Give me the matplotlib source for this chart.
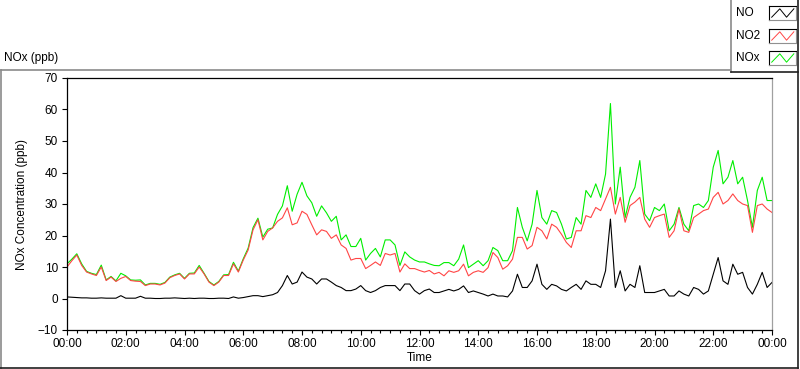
import numpy as np
import matplotlib
matplotlib.use("Agg")
from matplotlib import pyplot as plt
from matplotlib.lines import Line2D

plt.rcParams['font.family'] = ['Liberation Sans', 'DejaVu Sans']

# readings every 10 minutes, 00:00 .. 24:00
no2 = [10, 12, 13.8, 10.5, 8.4, 7.8, 7.3, 10, 5.7, 6.8, 5.4, 6.4, 7, 5.7, 5.5, 5.4,
       4.1, 4.6, 4.6, 4.3, 4.9, 6.6, 7.3, 7.8, 6.2, 7.8, 7.8, 10, 7.8, 5.2, 4.1, 5.2,
       7.3, 7.3, 11, 8.4, 12.2, 15.4, 21.8, 25,
       18.6, 21.3, 22.4, 24.5, 25.6, 28.8, 23.4, 24, 27.7, 26.7, 23.4, 20.2, 21.8, 21.3,
       19.1, 20.2, 17, 15.9, 12.2, 12.7, 12.7, 9.5, 10.5, 11.6, 10.5, 14.3, 13.8, 14.3,
       8.4, 11, 9.5, 9.5, 8.9, 8.4, 8.9, 7.8,
       8.3, 7.2, 8.8, 8.3, 8.8, 10.9, 7.2, 8.3, 8.8, 8.3, 9.8, 14.6, 13.0, 9.3, 10.4,
       12.5, 19.4, 19.4, 15.7, 16.8, 22.6, 21.5, 18.9, 23.6, 22.6, 20.4, 17.8, 16.2,
       21.5, 21.5, 26.3, 25.7, 28.9, 27.9, 31.6, 35.3, 26.8,
       32.1, 24.2, 29.5, 30.6, 32.1, 25.2, 22.6, 25.7, 26.3, 26.8, 19.4, 21.5, 28.4,
       21.5, 21.0, 25.7, 26.8, 27.9, 28.4, 32.1, 33.7, 30.0, 31.1, 33.2, 31.1, 30.0,
       29.5, 21.0, 29.5, 30.0, 28.4, 27.3]

nox = [11, 12.5, 14.2, 11, 8.6, 8.0, 7.6, 10.6, 5.9, 7.0, 5.6, 8.0, 7.2, 5.9, 5.8, 5.9,
       4.3, 4.8, 4.8, 4.5, 5.1, 6.8, 7.5, 8.0, 6.4, 8.0, 8.1, 10.5, 8.0, 5.4, 4.3, 5.4,
       7.5, 7.6, 11.5, 8.7, 12.6, 16, 22.5, 25.5,
       19.5, 22, 22.4, 26.7, 29.4, 35.8, 27.7, 33.1, 36.9, 32.6, 30.4, 26.1, 29.4, 27.2,
       24.5, 26.1, 18.6, 20.2, 16.5, 16.5, 19.1, 12.2, 14.3, 15.9, 13.2, 18.6, 18.6, 17,
       10.5, 14.8, 13.2, 12.2, 11.6, 11.6, 11, 10.5,
       10.4, 11.4, 11.4, 10.4, 12.5, 17.0, 9.8, 10.9, 12.0, 10.4, 12.0, 16.2, 15.2, 12.0,
       12.0, 15.2, 28.9, 22.6, 18.3, 23.6, 34.3, 25.7, 23.6, 27.9, 27.3, 23.6, 18.9,
       19.4, 25.7, 23.6, 34.3, 32.1, 36.4, 32.1, 39.5, 61.9, 30.0,
       41.7, 25.7, 32.1, 35.3, 43.8, 26.8, 24.7, 28.9, 27.9, 30.0, 21.5, 23.6, 28.9,
       23.6, 21.5, 29.5, 30.0, 28.9, 31.1, 41.7, 47.0, 36.4, 38.5, 43.8, 36.4, 38.5,
       31.1, 22.6, 34.3, 38.5, 31.1, 31.1]

no = [0.5, 0.4, 0.3, 0.2, 0.2, 0.1, 0.1, 0.2, 0.1, 0.1, 0.1, 0.9, 0.1, 0.1, 0.1, 0.7,
      0.1, 0.1, 0.0, 0.0, 0.1, 0.1, 0.2, 0.1, 0.0, 0.1, 0.0, 0.1, 0.1, 0.0, 0.0, 0.1,
      0.1, 0.0, 0.5, 0.1, 0.3, 0.6, 0.9, 0.9,
      0.6, 0.9, 1.2, 1.9, 4.1, 7.3, 4.6, 5.2, 8.4, 6.8, 6.2, 4.6, 6.2, 6.2, 5.2, 4.1,
      3.5, 2.5, 2.5, 3.0, 4.1, 2.5, 1.9, 2.5, 3.5, 4.1, 4.1, 4.1, 2.5, 4.6, 4.6, 2.5,
      1.4, 2.5, 3.0, 1.9,
      1.9, 2.4, 2.9, 2.4, 2.9, 4.0, 1.9, 2.4, 1.9, 1.4, 0.8, 1.4, 0.8, 0.8, 0.5, 2.4,
      7.7, 3.5, 3.5, 5.6, 10.9, 4.5, 2.9, 4.5, 4.0, 2.9, 2.4, 3.5, 4.5, 2.9, 5.6, 4.5,
      4.5, 3.5, 8.8, 25.2, 3.5,
      8.8, 2.4, 4.5, 3.5, 10.4, 1.9, 1.9, 1.9, 2.4, 2.9, 0.8, 0.8, 2.4, 1.4, 0.8, 3.5,
      2.9, 1.4, 2.4, 7.7, 13.0, 5.6, 4.5, 10.9, 7.7, 8.3, 3.5, 1.4, 4.5, 8.3, 3.5, 5.1]

hours = np.arange(len(no2)) * 10 / 60.0
tick_hours = list(range(0, 25, 2))
tick_labels = ['%02d:00' % (h % 24) for h in tick_hours]

W, H = 800, 369


def fx(px):
    return px / W


def fy(py):
    return 1 - py / H


fig = plt.figure(figsize=(W / 100, H / 100), dpi=100)
fig.patch.set_facecolor('white')

# panel frame (LabVIEW style)
def frame_line(x0, y0, x1, y1, color):
    fig.add_artist(Line2D([fx(x0), fx(x1)], [fy(y0), fy(y1)], color=color, lw=1.2,
                          transform=fig.transFigure))

frame_line(0.5, 69.5, 730, 69.5, '#8a8a8a')
frame_line(0.8, 69.5, 0.8, 369, '#8a8a8a')
frame_line(0, 367.5, 798, 367.5, '#202020')
frame_line(797.5, 0, 797.5, 368, '#202020')
# legend box
frame_line(730.5, 0, 730.5, 72, '#8a8a8a')
frame_line(730.5, 71.8, 798, 71.8, '#202020')

ax = fig.add_axes([fx(67), fy(330), fx(772) - fx(67), (330 - 78) / H])
ax.plot(hours, nox, color='#00ee00', lw=0.8)
ax.plot(hours, no2, color='#ff4545', lw=0.8)
ax.plot(hours, no, color='black', lw=0.8)

ax.set_xlim(0, 24)
ax.set_ylim(-10, 70)
ax.set_yticks(range(-10, 71, 10))
ax.set_xticks(tick_hours)
ax.set_xticklabels(tick_labels)
ax.set_xticks(np.arange(0, 24.01, 1 / 3), minor=True)
ax.tick_params(axis='both', which='major', direction='out', length=3.6, width=0.8,
               labelsize=8.5, colors='black')
ax.tick_params(axis='x', which='major', pad=2)
ax.tick_params(axis='y', which='major', pad=3)
ax.tick_params(axis='x', which='minor', direction='out', length=2, width=0.8)
for side in ['left', 'bottom', 'top']:
    ax.spines[side].set_color('black')
    ax.spines[side].set_linewidth(0.9)
ax.spines['right'].set_color('#a0a0a0')
ax.spines['right'].set_linewidth(0.9)

ax.set_xlabel('Time', fontsize=8.5)
ax.xaxis.set_label_coords(0.5, (330 - 352) / 252)
ax.set_ylabel('NOx Concentration (ppb)', fontsize=8.5)
ax.yaxis.set_label_coords((28 - 67) / 705, 0.5)

fig.text(fx(4), fy(58), 'NOx (ppb)', fontsize=8.5, va='center', ha='left')

# legend
leg_names = ['NO', 'NO2', 'NOx']
leg_colors = ['black', '#ff4545', '#00ee00']
leg_rows = [13, 36, 58]
for name, col, yc in zip(leg_names, leg_colors, leg_rows):
    fig.text(fx(736), fy(yc), name, fontsize=8.5, va='center', ha='left')
    iax = fig.add_axes([fx(769), fy(yc + 7), fx(27), 14 / H])
    iax.plot([0.1, 0.4, 0.65, 0.92], [0.2, 0.8, 0.2, 0.8], color=col, lw=0.7)
    iax.set_xlim(0, 1)
    iax.set_ylim(0, 1)
    iax.set_xticks([])
    iax.set_yticks([])
    for side in ['left', 'top']:
        iax.spines[side].set_color('black')
    for side in ['right', 'bottom']:
        iax.spines[side].set_color('#909090')
    for side in iax.spines:
        iax.spines[side].set_linewidth(0.8)

fig.savefig('out.png', dpi=100)
